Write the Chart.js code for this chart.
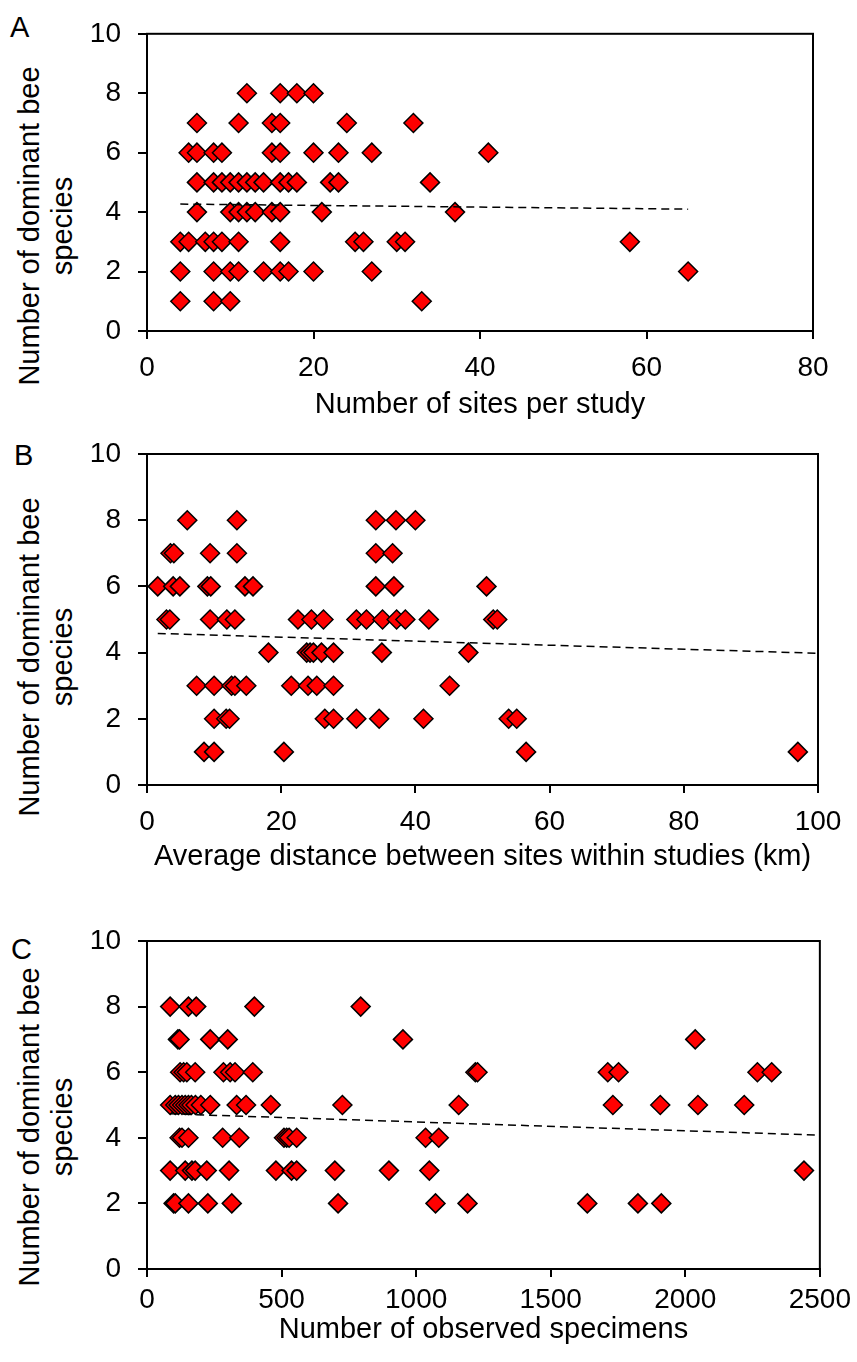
<!DOCTYPE html>
<html>
<head>
<meta charset="utf-8">
<script src="https://cdn.jsdelivr.net/npm/chart.js@4.4.1/dist/chart.umd.min.js"></script>
<style>
  body { margin: 0; background: #fff; width: 857px; height: 1362px; position: relative; overflow: hidden;
         font-family: "Liberation Sans", Arial, sans-serif; color: #000; }
  canvas { position: absolute; left: 0; }
  .letter { position: absolute; font-size: 29px; line-height: 29px; }
  .ytitle { position: absolute; font-size: 29px; line-height: 33px; text-align: center; white-space: nowrap;
            transform: translate(-50%, -50%) rotate(-90deg); }
</style>
</head>
<body>
<div class="letter" style="left:10px;top:13px">A</div>
<div class="letter" style="left:14px;top:441px">B</div>
<div class="letter" style="left:11px;top:935px">C</div>
<div class="ytitle" style="left:46px;top:226px">Number of dominant bee<br>species</div>
<div class="ytitle" style="left:46px;top:657px">Number of dominant bee<br>species</div>
<div class="ytitle" style="left:46px;top:1127px">Number of dominant bee<br>species</div>

<canvas id="chartA" width="857" height="424" style="top:0px"></canvas>
<canvas id="chartB" width="857" height="466" style="top:410px"></canvas>
<canvas id="chartC" width="857" height="469" style="top:880px"></canvas>

<script>
// A: number of sites per study
const sitesX = [12, 16, 18, 20,
  6, 11, 15, 16, 24, 32,
  5, 6, 8, 9, 15, 16, 20, 23, 27, 41,
  6, 8, 9, 10, 11, 12, 13, 14, 16, 17, 18, 22, 23, 34,
  6, 10, 11, 12, 13, 15, 16, 21, 37,
  4, 5, 7, 8, 9, 11, 16, 25, 26, 30, 31, 58,
  4, 8, 10, 11, 14, 16, 17, 20, 27, 65,
  4, 8, 10, 33];
const sitesY = [8, 8, 8, 8,
  7, 7, 7, 7, 7, 7,
  6, 6, 6, 6, 6, 6, 6, 6, 6, 6,
  5, 5, 5, 5, 5, 5, 5, 5, 5, 5, 5, 5, 5, 5,
  4, 4, 4, 4, 4, 4, 4, 4, 4,
  3, 3, 3, 3, 3, 3, 3, 3, 3, 3, 3, 3,
  2, 2, 2, 2, 2, 2, 2, 2, 2, 2,
  1, 1, 1, 1];
const sitesTrendX = [4, 65];
const sitesTrendY = [4.27, 4.10];

// B: average distance between sites (km)
const distX = [6.0, 13.4, 34.1, 37.1, 40.0,
  3.5, 4.0, 9.4, 13.4, 34.1, 36.6,
  1.6, 3.9, 4.9, 9.0, 9.5, 14.6, 15.8, 34.1, 36.8, 50.6,
  2.9, 3.4, 9.4, 11.9, 13.1, 22.5, 24.5, 26.3, 31.2, 32.7, 35.1, 37.2, 38.5, 42.0, 51.6, 52.2,
  18.1, 23.8, 24.3, 24.8, 26.0, 27.8, 35.0, 47.9,
  7.4, 10.0, 12.6, 13.1, 14.8, 21.5, 24.0, 25.3, 27.8, 45.1,
  10.0, 11.8, 12.3, 26.5, 27.8, 31.2, 34.6, 41.2, 53.9, 55.1,
  8.5, 10.0, 20.4, 56.5, 97.0];
const distY = [8, 8, 8, 8, 8,
  7, 7, 7, 7, 7, 7,
  6, 6, 6, 6, 6, 6, 6, 6, 6, 6,
  5, 5, 5, 5, 5, 5, 5, 5, 5, 5, 5, 5, 5, 5, 5, 5,
  4, 4, 4, 4, 4, 4, 4, 4,
  3, 3, 3, 3, 3, 3, 3, 3, 3, 3,
  2, 2, 2, 2, 2, 2, 2, 2, 2, 2,
  1, 1, 1, 1, 1];
const distTrendX = [1.6, 100];
const distTrendY = [4.58, 3.98];

// C: number of observed specimens
const specX = [86, 154, 183, 399, 794,
  115, 121, 235, 300, 951, 2037,
  123, 136, 148, 179, 284, 309, 327, 393, 1220, 1228, 1712, 1752, 2268, 2321,
  86, 105, 117, 130, 142, 154, 165, 180, 200, 235, 333, 368, 460, 726, 1158, 1731, 1907, 2047, 2219,
  121, 130, 154, 281, 343, 509, 519, 528, 556, 1035, 1084,
  86, 142, 167, 179, 222, 305, 479, 537, 556, 698, 899, 1049, 2441,
  99, 105, 154, 226, 315, 710, 1072, 1191, 1636, 1824, 1911];
const specY = [8, 8, 8, 8, 8,
  7, 7, 7, 7, 7, 7,
  6, 6, 6, 6, 6, 6, 6, 6, 6, 6, 6, 6, 6, 6,
  5, 5, 5, 5, 5, 5, 5, 5, 5, 5, 5, 5, 5, 5, 5, 5, 5, 5, 5,
  4, 4, 4, 4, 4, 4, 4, 4, 4, 4, 4,
  3, 3, 3, 3, 3, 3, 3, 3, 3, 3, 3, 3, 3,
  2, 2, 2, 2, 2, 2, 2, 2, 2, 2, 2];
const specTrendX = [86, 2500];
const specTrendY = [4.73, 4.08];

const speciesTicks = [0, 2, 4, 6, 8, 10];

const FONT = '"Liberation Sans", Arial, sans-serif';
Chart.defaults.font.family = FONT;
Chart.defaults.color = '#000';

// box around the plot area
const framePlugin = {
  id: 'frame',
  afterDraw(chart) {
    const a = chart.chartArea;
    const ctx = chart.ctx;
    ctx.save();
    ctx.strokeStyle = '#000';
    ctx.lineWidth = 2;
    ctx.strokeRect(a.left, a.top, a.right - a.left, a.bottom - a.top);
    ctx.restore();
  }
};

function makePanel(id, xs, ys, tx, ty, opt) {
  const points = xs.map((x, i) => ({ x: x, y: ys[i] }));
  const trend = tx.map((x, i) => ({ x: x, y: ty[i] }));

  return new Chart(document.getElementById(id), {
    type: 'scatter',
    data: {
      datasets: [
        {
          type: 'line',
          data: trend,
          borderColor: '#000',
          borderWidth: 1.5,
          borderDash: [8, 5],
          pointRadius: 0,
          fill: false
        },
        {
          data: points,
          pointStyle: 'rectRot',
          pointRadius: 9.5,
          pointHoverRadius: 9.5,
          backgroundColor: '#ff0000',
          borderColor: '#000',
          borderWidth: 1.5
        }
      ]
    },
    options: {
      responsive: false,
      animation: false,
      devicePixelRatio: 1,
      layout: { padding: { left: 0, top: opt.top, right: opt.right, bottom: 0 } },
      plugins: { legend: { display: false }, tooltip: { enabled: false } },
      scales: {
        x: {
          type: 'linear',
          min: 0,
          max: opt.xMax,
          ticks: {
            stepSize: opt.xStep, font: { family: FONT, size: 28 }, padding: opt.xPad,
            maxRotation: 0, color: '#000', callback: (v) => String(v)
          },
          grid: { drawOnChartArea: false, drawTicks: true, tickLength: 8, color: '#000', lineWidth: 2 },
          border: { display: true, color: '#000', width: 2 },
          title: { display: true, text: opt.xTitle, font: { family: FONT, size: 29 }, color: '#000', padding: { top: 0, bottom: 2 } },
          afterFit: (s) => { s.height = opt.xH; }
        },
        y: {
          min: 0,
          max: 10,
          afterBuildTicks: (s) => { s.ticks = speciesTicks.map(v => ({ value: v })); },
          ticks: { font: { family: FONT, size: 28 }, padding: 17, color: '#000' },
          grid: { drawOnChartArea: false, drawTicks: true, tickLength: 9, color: '#000', lineWidth: 2 },
          border: { display: true, color: '#000', width: 2 },
          afterFit: (s) => { s.width = 147; }
        }
      }
    },
    plugins: [framePlugin]
  });
}

makePanel('chartA', sitesX, sitesY, sitesTrendX, sitesTrendY, {
  top: 19, right: 44, xH: 93, xMax: 80, xStep: 20, xPad: 12,
  xTitle: 'Number of sites per study'
});

makePanel('chartB', distX, distY, distTrendX, distTrendY, {
  top: 44, right: 39, xH: 91, xMax: 100, xStep: 20, xPad: 12,
  xTitle: 'Average distance between sites within studies (km)'
});

makePanel('chartC', specX, specY, specTrendX, specTrendY, {
  top: 61, right: 35, xH: 80, xMax: 2500, xStep: 500, xPad: 6,
  xTitle: 'Number of observed specimens'
});
</script>
</body>
</html>
